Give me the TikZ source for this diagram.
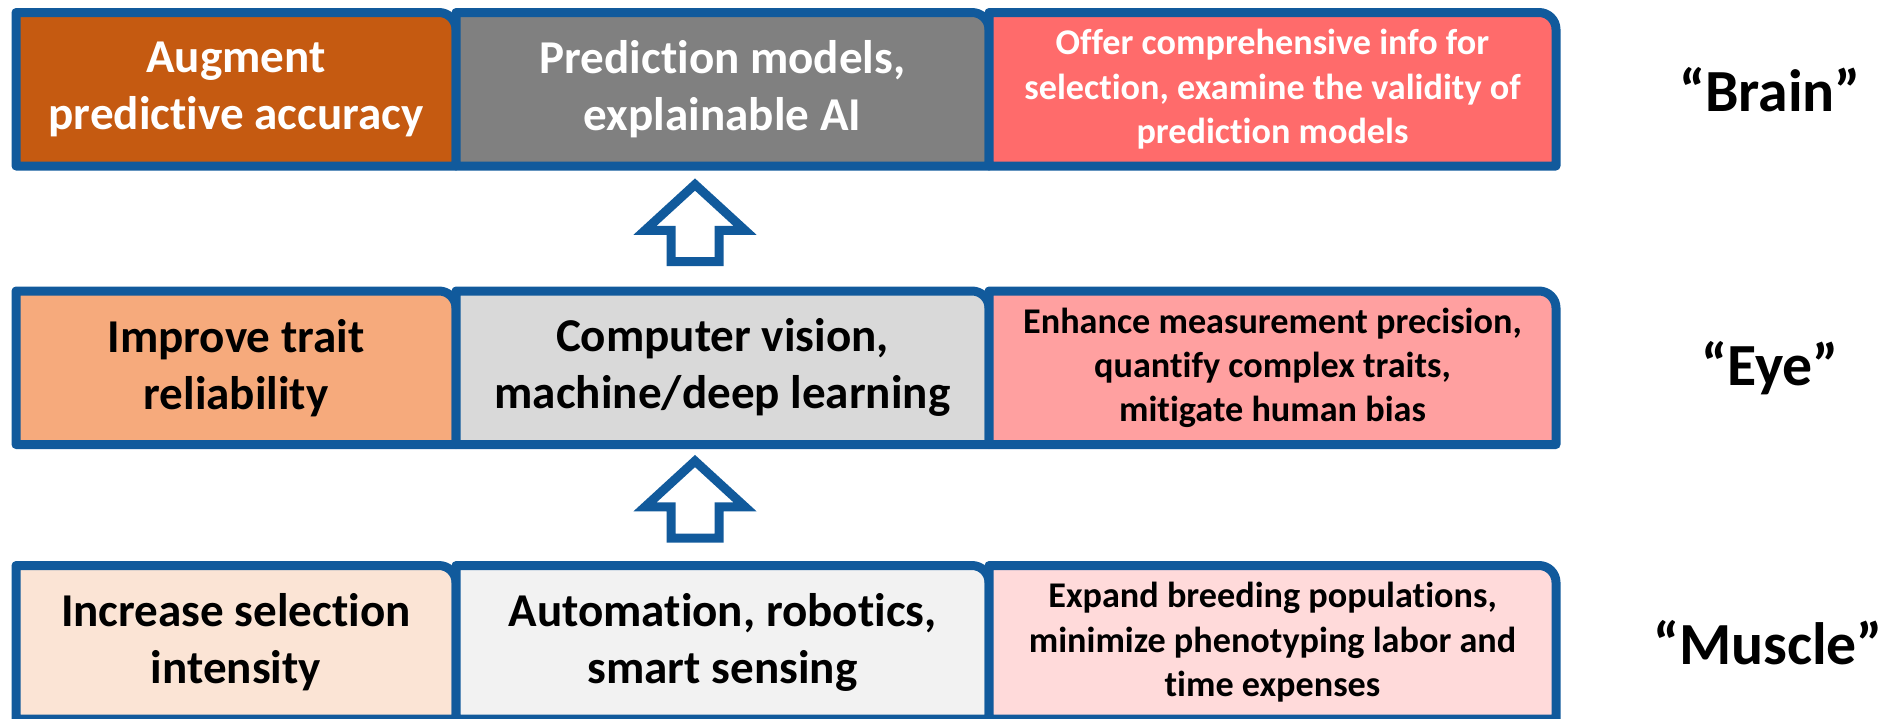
\documentclass[tikz,border=0pt]{standalone}
\usepackage{fontspec}
\setmainfont{Carlito}[Ligatures=NoCommon]
\usetikzlibrary{positioning,calc,shapes.arrows,backgrounds}

% colours of the three levels
\definecolor{framebl}{RGB}{17,90,156}
\definecolor{augfill}{RGB}{197,90,17}
\definecolor{predfill}{RGB}{128,128,128}
\definecolor{offerfill}{RGB}{255,107,107}
\definecolor{traitfill}{RGB}{246,170,124}
\definecolor{visionfill}{RGB}{217,217,217}
\definecolor{enhancefill}{RGB}{255,160,160}
\definecolor{intensfill}{RGB}{251,228,213}
\definecolor{robotfill}{RGB}{242,242,242}
\definecolor{expandfill}{RGB}{255,218,218}

\newcommand{\tabr}{0.17cm}

\tikzset{
  cell/.style={inner sep=0pt, outer sep=0pt, minimum height=1.535cm, align=center,
    font=\bfseries\fontsize{13.4}{16.2}\selectfont},
  note/.style={cell, font=\bfseries\fontsize{10.3}{12.6}\selectfont},
  cellframe/.style={draw=framebl, line width=0.09cm, line join=round},
  tag/.style={font=\bfseries\fontsize{17}{20}\selectfont},
  uparrow/.style={single arrow, draw=framebl, fill=white, line width=0.09cm,
    rotate=90, inner xsep=0pt, inner ysep=0.195cm, minimum height=0.77cm,
    single arrow head extend=0.26cm, single arrow tip angle=95},
}

\begin{document}
\begin{tikzpicture}
  \useasboundingbox (0,0) rectangle (19.03,-7.18);

  % "Brain" level
  \node[cell, minimum width=4.40cm, text=white] (aug) at (2.36,-0.8925) {Augment\\predictive accuracy};
  \node[cell, minimum width=5.33cm, text=white, right=0pt of aug] (pred) {Prediction models,\\explainable AI};
  \node[note, minimum width=5.67cm, text=white, right=0pt of pred] (offer) {Offer comprehensive info for\\selection, examine the validity of\\prediction models};

  % "Eye" level
  \node[cell, minimum width=4.40cm, below=1.25cm of aug] (trait) {Improve trait\\reliability};
  \node[cell, minimum width=5.33cm, right=0pt of trait] (vision) {Computer vision,\\machine/deep learning};
  \node[note, minimum width=5.67cm, right=0pt of vision] (enhance) {Enhance measurement precision,\\quantify complex traits,\\mitigate human bias};

  % "Muscle" level
  \node[cell, minimum width=4.40cm, below=1.21cm of trait] (intens) {Increase selection\\intensity};
  \node[cell, minimum width=5.33cm, right=0pt of intens] (robot) {Automation, robotics,\\smart sensing};
  \node[note, minimum width=5.67cm, right=0pt of robot] (expand) {Expand breeding populations,\\minimize phenotyping labor and\\time expenses};

  % frames with one round corner
  \begin{scope}[on background layer]
    \foreach \c/\f in {aug/augfill, pred/predfill, offer/offerfill,
                       trait/traitfill, vision/visionfill, enhance/enhancefill,
                       intens/intensfill, robot/robotfill, expand/expandfill}
      \draw[cellframe, fill=\f] (\c.south west) -- (\c.north west)
        -- ([xshift=-\tabr]\c.north east) arc[start angle=90, end angle=0, radius=\tabr]
        -- (\c.south east) -- cycle;
  \end{scope}

  % level names
  \node[tag] (brain) at ([xshift=2.14cm]offer.east) {“Brain”};
  \node[tag] (eye) at ([xshift=2.14cm]enhance.east) {“Eye”};
  \node[tag] (muscle) at ([xshift=2.12cm]expand.east) {“Muscle”};

  % block arrows between levels
  \node[uparrow] (up1) at ($(pred.south)!0.5!(vision.north)+(-0.275,-0.055)$) {};
  \node[uparrow] (up2) at ($(vision.south)!0.5!(robot.north)+(-0.275,-0.055)$) {};
\end{tikzpicture}
\end{document}
